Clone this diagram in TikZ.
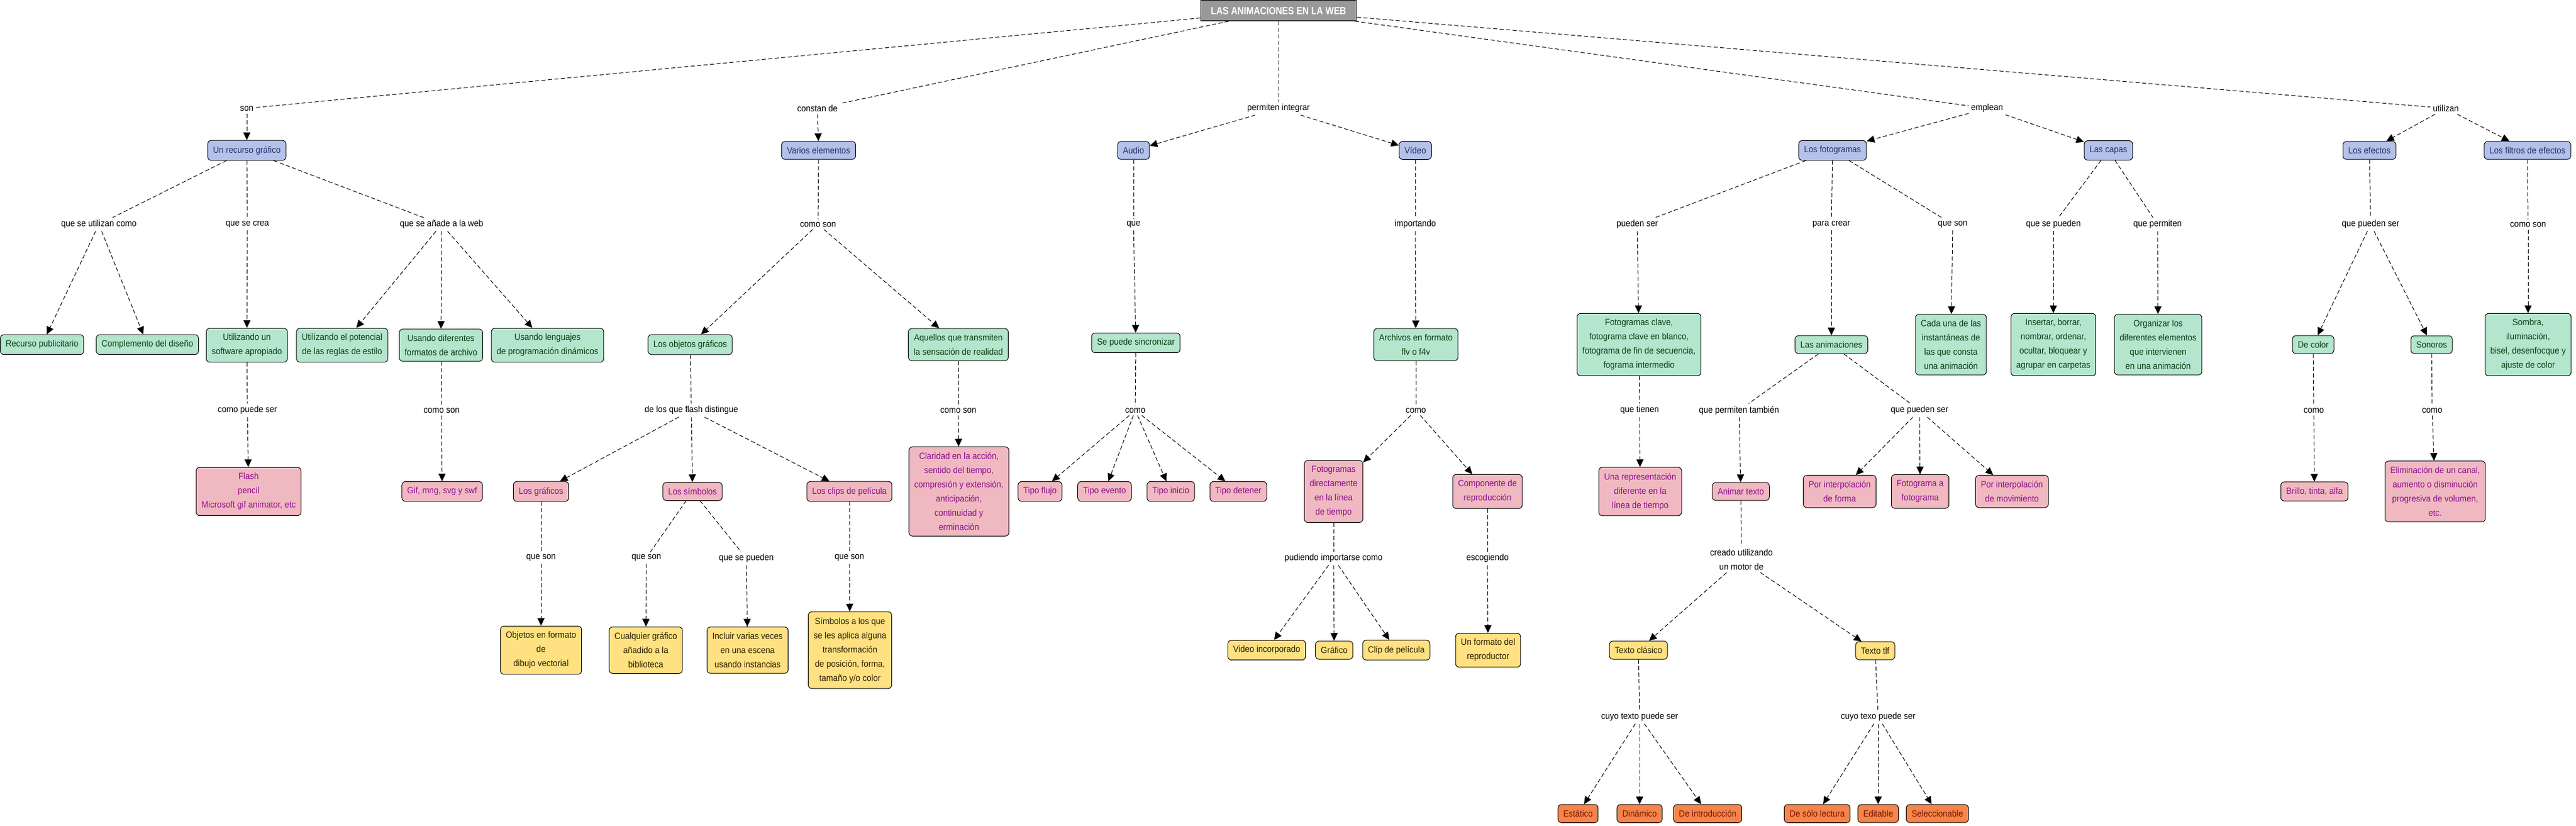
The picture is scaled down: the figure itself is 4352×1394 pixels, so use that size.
\documentclass[tikz,border=0pt]{standalone}
\usepackage{fontspec}
\setmainfont{Liberation Sans}[FakeStretch=0.92]
\newfontfamily\titlefont{Liberation Sans}[FakeStretch=0.85]
\usetikzlibrary{arrows.meta}
\definecolor{fazul}{HTML}{B4C1E9}
\definecolor{tazul}{HTML}{27336B}
\definecolor{fverde}{HTML}{B4E5CD}
\definecolor{tverde}{HTML}{0F3D14}
\definecolor{frosa}{HTML}{F0B9C1}
\definecolor{trosa}{HTML}{8E0E8E}
\definecolor{famarillo}{HTML}{FFE182}
\definecolor{tamarillo}{HTML}{2A2000}
\definecolor{fnaranja}{HTML}{F5854A}
\definecolor{tnaranja}{HTML}{7A1500}
\definecolor{fgris}{HTML}{999999}
\begin{document}
\begin{tikzpicture}[x=0.5pt, y=-0.5pt, font=\fontsize{7.6}{12}\selectfont,
    caja/.style={draw=black, line width=0.5pt, rounded corners=3pt, align=center, inner xsep=4.5pt, inner ysep=4.8pt},
    azul/.style={caja, fill=fazul, text=tazul},
    verde/.style={caja, fill=fverde, text=tverde},
    rosa/.style={caja, fill=frosa, text=trosa},
    amarillo/.style={caja, fill=famarillo, text=tamarillo},
    naranja/.style={caja, fill=fnaranja, text=tnaranja},
    enlace/.style={align=center, inner sep=2pt, text=black},
    titulo/.style={draw=black!80, line width=0.8pt, fill=fgris, text=white, minimum width=131.5pt, minimum height=17pt,
      font=\titlefont\bfseries\fontsize{8.8}{10}\selectfont},
    linea/.style={line width=0.5pt, dash pattern=on 3.5pt off 2pt},
    flecha/.style={linea, -{Triangle[length=6.5pt,width=6pt]}}]
  \useasboundingbox (0,0) rectangle (4352,1394);

  \node[titulo] (web) at (2160,18) {LAS ANIMACIONES EN LA WEB};

  \node[enlace] (son) at (417,183) {son};
  \node[enlace] (constan) at (1381,183) {constan de};
  \node[enlace] (integrar) at (2160,183) {permiten integrar};
  \node[enlace] (emplean) at (3357,183) {emplean};
  \node[enlace] (utilizan) at (4132,183) {utilizan};

  \node[azul] (recurso) at (417,254) {Un recurso gráfico};
  \node[azul] (varios) at (1383,254) {Varios elementos};
  \node[azul] (audio) at (1915,254) {Audio};
  \node[azul] (video) at (2391,254) {Vídeo};
  \node[azul] (fotogramas) at (3096,254) {Los fotogramas};
  \node[azul] (capas) at (3562,254) {Las capas};
  \node[azul] (efectos) at (4003,254) {Los efectos};
  \node[azul] (filtros) at (4270,254) {Los filtros de efectos};

  \node[enlace] (utilizancomo) at (167,379) {que se utilizan como};
  \node[enlace] (secrea) at (418,379) {que se crea};
  \node[enlace] (seanade) at (746,379) {que se añade a la web};
  \node[enlace] (comoson1) at (1382,379) {como son};
  \node[enlace] (que1) at (1915,379) {que};
  \node[enlace] (importando) at (2391,379) {importando};
  \node[enlace] (puedenser1) at (2766,379) {pueden ser};
  \node[enlace] (paracrear) at (3094,379) {para crear};
  \node[enlace] (queson1) at (3299,379) {que son};
  \node[enlace] (sepueden1) at (3469,379) {que se pueden};
  \node[enlace] (permiten1) at (3645,379) {que permiten};
  \node[enlace] (puedenser2) at (4005,379) {que pueden ser};
  \node[enlace] (comoson2) at (4271,379) {como son};

  \node[verde] (publicitario) at (71,582) {Recurso publicitario};
  \node[verde] (complemento) at (249,582) {Complemento del diseño};
  \node[verde] (software) at (417,583) {Utilizando un\\software apropiado};
  \node[verde] (potencial) at (578,583) {Utilizando el potencial\\de las reglas de estilo};
  \node[verde] (formatos) at (745,583) {Usando diferentes\\formatos de archivo};
  \node[verde] (lenguajes) at (925,583) {Usando lenguajes\\de programación dinámicos};
  \node[verde] (objetos) at (1166,582) {Los objetos gráficos};
  \node[verde] (aquellos) at (1619,582) {Aquellos que transmiten\\la sensación de realidad};
  \node[verde] (sincronizar) at (1919,579) {Se puede sincronizar};
  \node[verde] (archivos) at (2392,582) {Archivos en formato\\flv o f4v};
  \node[verde] (clave) at (2769,582) {Fotogramas clave,\\fotograma clave en blanco,\\fotograma de fin de secuencia,\\fograma intermedio};
  \node[verde] (animaciones) at (3094,582) {Las animaciones};
  \node[verde] (cadauna) at (3296,582) {Cada una de las\\instantáneas de\\las que consta\\una animación};
  \node[verde] (insertar) at (3469,582) {Insertar, borrar,\\nombrar, ordenar,\\ocultar, bloquear y\\agrupar en carpetas};
  \node[verde] (organizar) at (3646,582) {Organizar los\\diferentes elementos\\que intervienen\\en una animación};
  \node[verde] (decolor) at (3908,582) {De color};
  \node[verde] (sonoros) at (4108,582) {Sonoros};
  \node[verde] (sombra) at (4271,582) {Sombra,\\iluminación,\\bisel, desenfocque y\\ajuste de color};

  \node[enlace] (puedeser) at (418,693) {como puede ser};
  \node[enlace] (comoson3) at (746,693) {como son};
  \node[enlace] (distingue) at (1168,693) {de los que flash distingue};
  \node[enlace] (comoson4) at (1619,693) {como son};
  \node[enlace] (como1) at (1918,693) {como};
  \node[enlace] (como2) at (2392,693) {como};
  \node[enlace] (tienen) at (2770,693) {que tienen};
  \node[enlace] (tambien) at (2938,693) {que permiten también};
  \node[enlace] (puedenser3) at (3243,693) {que pueden ser};
  \node[enlace] (como3) at (3909,693) {como};
  \node[enlace] (como4) at (4109,693) {como};

  \node[rosa] (flash) at (420,830) {Flash\\pencil\\Microsoft gif animator, etc};
  \node[rosa] (gif) at (747,830) {Gif, mng, svg y swf};
  \node[rosa] (graficos) at (914,830) {Los gráficos};
  \node[rosa] (simbolos) at (1170,830) {Los símbolos};
  \node[rosa] (clips) at (1435,830) {Los clips de película};
  \node[rosa] (claridad) at (1620,830) {Claridad en la acción,\\sentido del tiempo,\\compresión y extensión,\\anticipación,\\continuidad y\\erminación};
  \node[rosa] (flujo) at (1757,830) {Tipo flujo};
  \node[rosa] (evento) at (1866,830) {Tipo evento};
  \node[rosa] (inicio) at (1978,830) {Tipo inicio};
  \node[rosa] (detener) at (2092,830) {Tipo detener};
  \node[rosa] (directamente) at (2253,830) {Fotogramas\\directamente\\en la línea\\de tiempo};
  \node[rosa] (componente) at (2513,830) {Componente de\\reproducción};
  \node[rosa] (representacion) at (2771,830) {Una representación\\diferente en la\\línea de tiempo};
  \node[rosa] (animar) at (2941,830) {Animar texto};
  \node[rosa] (forma) at (3108,830) {Por interpolación\\de forma};
  \node[rosa] (afotograma) at (3244,830) {Fotograma a\\fotograma};
  \node[rosa] (movimiento) at (3399,830) {Por interpolación\\de movimiento};
  \node[rosa] (brillo) at (3910,830) {Brillo, tinta, alfa};
  \node[rosa] (canal) at (4114,830) {Eliminación de un canal,\\aumento o disminución\\progresiva de volumen,\\etc.};

  \node[enlace] (queson2) at (914,942) {que son};
  \node[enlace] (queson3) at (1092,942) {que son};
  \node[enlace] (sepueden2) at (1261,943) {que se pueden};
  \node[enlace] (queson4) at (1435,942) {que son};
  \node[enlace] (importarse) at (2253,943) {pudiendo importarse como};
  \node[enlace] (escogiendo) at (2513,943) {escogiendo};
  \node[enlace] (motor) at (2942,945) {creado utilizando\\un motor de};

  \node[amarillo] (vectorial) at (914,1098) {Objetos en formato\\de\\dibujo vectorial};
  \node[amarillo] (cualquier) at (1091,1098) {Cualquier gráfico\\añadido a la\\biblioteca};
  \node[amarillo] (incluir) at (1263,1098) {Incluir varias veces\\en una escena\\usando instancias};
  \node[amarillo] (alosque) at (1436,1098) {Símbolos a los que\\se les aplica alguna\\transformación\\de posición, forma,\\tamaño y/o color};
  \node[amarillo] (incorporado) at (2140,1098) {Video incorporado};
  \node[amarillo] (grafico) at (2254,1098) {Gráfico};
  \node[amarillo] (clip) at (2359,1098) {Clip de película};
  \node[amarillo] (reproductor) at (2514,1098) {Un formato del\\reproductor};
  \node[amarillo] (clasico) at (2768,1098) {Texto clásico};
  \node[amarillo] (tlf) at (3168,1099) {Texto tlf};

  \node[enlace] (cuyotexto) at (2770,1211) {cuyo texto puede ser};
  \node[enlace] (cuyotexo) at (3173,1211) {cuyo texo puede ser};

  \node[naranja] (estatico) at (2666,1374) {Estático};
  \node[naranja] (dinamico) at (2770,1374) {Dinámico};
  \node[naranja] (introduccion) at (2885,1374) {De introducción};
  \node[naranja] (lectura) at (3070,1374) {De sólo lectura};
  \node[naranja] (editable) at (3173,1374) {Editable};
  \node[naranja] (seleccionable) at (3273,1374) {Seleccionable};

  \draw[linea] (web) -- (son);
  \draw[linea] (web) -- (constan);
  \draw[linea] (web) -- (integrar);
  \draw[linea] (web) -- (emplean);
  \draw[linea] (web) -- (utilizan);
  \draw[flecha] (son) -- (recurso);
  \draw[flecha] (constan) -- (varios);
  \draw[flecha] (integrar) -- (audio);
  \draw[flecha] (integrar) -- (video);
  \draw[flecha] (emplean) -- (fotogramas);
  \draw[flecha] (emplean) -- (capas);
  \draw[flecha] (utilizan) -- (efectos);
  \draw[flecha] (utilizan) -- (filtros);

  \draw[linea] (recurso) -- (utilizancomo);
  \draw[linea] (recurso) -- (secrea);
  \draw[linea] (recurso) -- (seanade);
  \draw[flecha] (utilizancomo) -- (publicitario);
  \draw[flecha] (utilizancomo) -- (complemento);
  \draw[flecha] (secrea) -- (software);
  \draw[flecha] (seanade) -- (potencial);
  \draw[flecha] (seanade) -- (formatos);
  \draw[flecha] (seanade) -- (lenguajes);
  \draw[linea] (software) -- (puedeser);
  \draw[flecha] (puedeser) -- (flash);
  \draw[linea] (formatos) -- (comoson3);
  \draw[flecha] (comoson3) -- (gif);

  \draw[linea] (varios) -- (comoson1);
  \draw[flecha] (comoson1) -- (objetos);
  \draw[flecha] (comoson1) -- (aquellos);
  \draw[linea] (objetos) -- (distingue);
  \draw[flecha] (distingue) -- (graficos);
  \draw[flecha] (distingue) -- (simbolos);
  \draw[flecha] (distingue) -- (clips);
  \draw[linea] (aquellos) -- (comoson4);
  \draw[flecha] (comoson4) -- (claridad);
  \draw[linea] (graficos) -- (queson2);
  \draw[flecha] (queson2) -- (vectorial);
  \draw[linea] (simbolos) -- (queson3);
  \draw[flecha] (queson3) -- (cualquier);
  \draw[linea] (simbolos) -- (sepueden2);
  \draw[flecha] (sepueden2) -- (incluir);
  \draw[linea] (clips) -- (queson4);
  \draw[flecha] (queson4) -- (alosque);

  \draw[linea] (audio) -- (que1);
  \draw[flecha] (que1) -- (sincronizar);
  \draw[linea] (sincronizar) -- (como1);
  \draw[flecha] (como1) -- (flujo);
  \draw[flecha] (como1) -- (evento);
  \draw[flecha] (como1) -- (inicio);
  \draw[flecha] (como1) -- (detener);

  \draw[linea] (video) -- (importando);
  \draw[flecha] (importando) -- (archivos);
  \draw[linea] (archivos) -- (como2);
  \draw[flecha] (como2) -- (directamente);
  \draw[flecha] (como2) -- (componente);
  \draw[linea] (directamente) -- (importarse);
  \draw[flecha] (importarse) -- (incorporado);
  \draw[flecha] (importarse) -- (grafico);
  \draw[flecha] (importarse) -- (clip);
  \draw[linea] (componente) -- (escogiendo);
  \draw[flecha] (escogiendo) -- (reproductor);

  \draw[linea] (fotogramas) -- (puedenser1);
  \draw[linea] (fotogramas) -- (paracrear);
  \draw[linea] (fotogramas) -- (queson1);
  \draw[flecha] (puedenser1) -- (clave);
  \draw[flecha] (paracrear) -- (animaciones);
  \draw[flecha] (queson1) -- (cadauna);
  \draw[linea] (clave) -- (tienen);
  \draw[flecha] (tienen) -- (representacion);
  \draw[linea] (animaciones) -- (tambien);
  \draw[linea] (animaciones) -- (puedenser3);
  \draw[flecha] (tambien) -- (animar);
  \draw[flecha] (puedenser3) -- (forma);
  \draw[flecha] (puedenser3) -- (afotograma);
  \draw[flecha] (puedenser3) -- (movimiento);
  \draw[linea] (animar) -- (motor);
  \draw[flecha] (motor) -- (clasico);
  \draw[flecha] (motor) -- (tlf);
  \draw[linea] (clasico) -- (cuyotexto);
  \draw[flecha] (cuyotexto) -- (estatico);
  \draw[flecha] (cuyotexto) -- (dinamico);
  \draw[flecha] (cuyotexto) -- (introduccion);
  \draw[linea] (tlf) -- (cuyotexo);
  \draw[flecha] (cuyotexo) -- (lectura);
  \draw[flecha] (cuyotexo) -- (editable);
  \draw[flecha] (cuyotexo) -- (seleccionable);

  \draw[linea] (capas) -- (sepueden1);
  \draw[linea] (capas) -- (permiten1);
  \draw[flecha] (sepueden1) -- (insertar);
  \draw[flecha] (permiten1) -- (organizar);

  \draw[linea] (efectos) -- (puedenser2);
  \draw[flecha] (puedenser2) -- (decolor);
  \draw[flecha] (puedenser2) -- (sonoros);
  \draw[linea] (decolor) -- (como3);
  \draw[flecha] (como3) -- (brillo);
  \draw[linea] (sonoros) -- (como4);
  \draw[flecha] (como4) -- (canal);
  \draw[linea] (filtros) -- (comoson2);
  \draw[flecha] (comoson2) -- (sombra);
\end{tikzpicture}
\end{document}
